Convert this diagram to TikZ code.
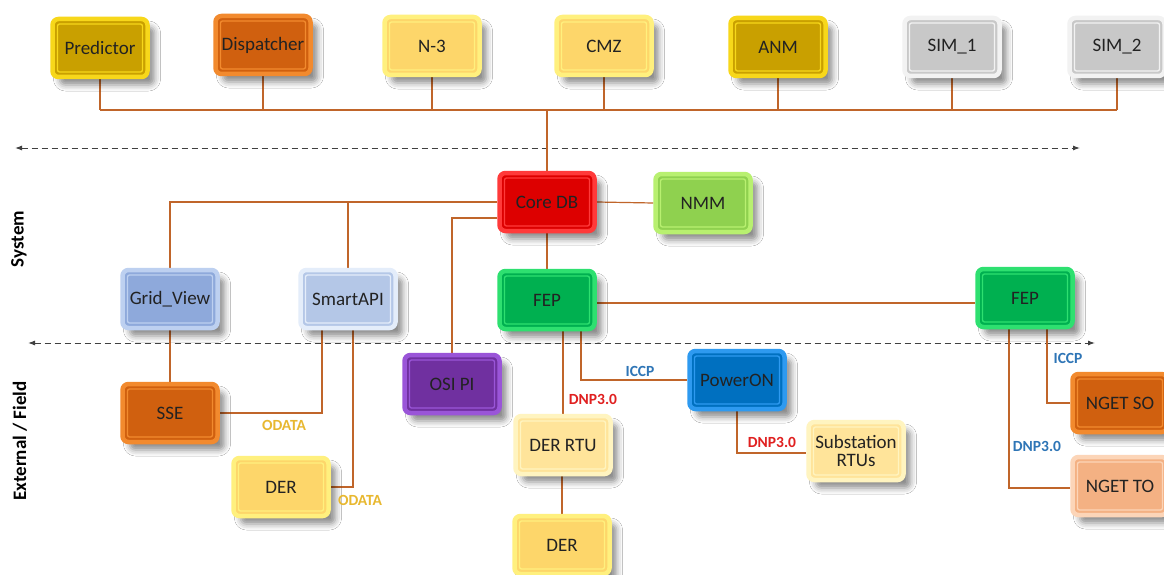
\documentclass[tikz,border=0pt]{standalone}
\usepackage{fontspec}
\setmainfont{Carlito}
\usetikzlibrary{shadows.blur,backgrounds,arrows.meta}

% fills and rims of the boxes
\definecolor{goldD}{HTML}{C9A000}
\definecolor{goldL}{HTML}{F7D71A}
\definecolor{orgD}{HTML}{D0600F}
\definecolor{orgL}{HTML}{F28A2E}
\definecolor{ylwD}{HTML}{FDD66A}
\definecolor{ylwL}{HTML}{FFF07E}
\definecolor{paleD}{HTML}{FFE49A}
\definecolor{paleL}{HTML}{FFF4C0}
\definecolor{simD}{HTML}{C8C8C8}
\definecolor{simL}{HTML}{F2F2F2}
\definecolor{redD}{HTML}{DD0000}
\definecolor{redL}{HTML}{FF3A3A}
\definecolor{limeD}{HTML}{8FD14F}
\definecolor{limeL}{HTML}{B8F070}
\definecolor{gvD}{HTML}{8EA9DB}
\definecolor{gvL}{HTML}{BDD0F0}
\definecolor{saD}{HTML}{B4C7E7}
\definecolor{saL}{HTML}{E4EDFA}
\definecolor{grnD}{HTML}{00B050}
\definecolor{grnL}{HTML}{2EE070}
\definecolor{purD}{HTML}{7030A0}
\definecolor{purL}{HTML}{9A55D8}
\definecolor{bluD}{HTML}{0070C0}
\definecolor{bluL}{HTML}{2E9AF0}
\definecolor{peachD}{HTML}{F4B183}
\definecolor{peachL}{HTML}{FCD5B8}
% wires and labels
\definecolor{wire}{HTML}{C0652A}
\definecolor{odata}{HTML}{E8B830}
\definecolor{dnpred}{HTML}{E02020}
\definecolor{iccp}{HTML}{2E75B6}
\definecolor{boxtext}{HTML}{222222}

\begin{document}
\begin{tikzpicture}[x=1pt,y=-1pt,
  font=\fontsize{19}{21}\selectfont,
  box/.style 2 args={
    rectangle, rounded corners=6pt,
    minimum width=95pt, minimum height=58pt,
    fill=#1, draw=#2, line width=4.5pt,
    text=boxtext, align=center,
    blur shadow={shadow xshift=7pt, shadow yshift=-8pt,
                 shadow blur radius=6pt, shadow opacity=45},
    path picture={
      \draw[#2, line width=1.3pt, rounded corners=2pt]
        ([shift={(5pt,-5pt)}]path picture bounding box.north west)
        rectangle
        ([shift={(-5pt,5pt)}]path picture bounding box.south east);}
  },
  link/.style={draw=wire, line width=1.2pt},
  divider/.style={draw=black!75, line width=1pt, dash pattern=on 6pt off 4pt,
                  {Latex[length=7pt,width=5pt]}-{Latex[length=7pt,width=5pt]}},
  tag/.style={font=\fontsize{15.5}{17}\selectfont\bfseries},
  side/.style={font=\fontsize{19}{21}\selectfont\bfseries, rotate=90}
]
\useasboundingbox (0,0) rectangle (1164,575);

% application layer
\node[box={goldD}{goldL}] (pred) at (100,48) {Predictor};
\node[box={orgD}{orgL}]   (disp) at (263,45) {Dispatcher};
\node[box={ylwD}{ylwL}]   (n3)   at (432,46) {N-3};
\node[box={ylwD}{ylwL}]   (cmz)  at (604,46) {CMZ};
\node[box={goldD}{goldL}] (anm)  at (778,47) {ANM};
\node[box={simD}{simL}] (sim1) at (952,47) {SIM\_1};
\node[box={simD}{simL}] (sim2) at (1117,47) {SIM\_2};

% system layer
\node[box={redD}{redL}]   (core)  at (547,202) {Core DB};
\node[box={limeD}{limeL}] (nmm)   at (703,203) {NMM};
\node[box={gvD}{gvL}]     (grid)  at (170,299) {Grid\_View};
\node[box={saD}{saL}]     (smart) at (348,299) {SmartAPI};
\node[box={grnD}{grnL}]   (fepA)  at (547,300) {FEP};
\node[box={grnD}{grnL}]   (fepB)  at (1025,298) {FEP};

% external / field layer
\node[box={purD}{purL}]   (osi)    at (452,384) {OSI PI};
\node[box={orgD}{orgL}]   (sse)    at (170,413) {SSE};
\node[box={ylwD}{ylwL}]   (derL)   at (281,487) {DER};
\node[box={paleD}{paleL}] (derrtu) at (563,445) {DER RTU};
\node[box={ylwD}{ylwL}]   (derB)   at (562,545) {DER};
\node[box={bluD}{bluL}]   (power)  at (737,380) {PowerON};
\node[box={paleD}{paleL}] (subst)  at (856,451) {Substation\\[-3pt]RTUs};
\node[box={orgD}{orgL}]   (ngso)   at (1120,403) {NGET SO};
\node[box={peachD}{peachL}] (ngto) at (1120,486) {NGET TO};

% bus and layer dividers
\coordinate (bus) at (0,110);
\coordinate (divAl) at (15,148);
\coordinate (divAr) at (1080,148);
\coordinate (divBl) at (28,343);
\coordinate (divBr) at (1095,343);

\begin{scope}[on background layer]
  \fill[white] (0,0) rectangle (1164,575);
  \draw[divider] (divAl) -- (divAr);
  \draw[divider] (divBl) -- (divBr);

  \foreach \n in {pred,disp,n3,cmz,anm,sim1,sim2}
    \draw[link] (\n.south) -- (\n.south |- bus);
  \draw[link] (pred.south |- bus) -- (sim2.south |- bus);
  \draw[link] (core.north) -- (core.north |- bus);

  \draw[link] (grid.north) |- (core.west);
  \draw[link] (smart.north) -- (smart.north |- core.west);
  \draw[link] ([yshift=-16pt]core.west) -| (osi.north);
  \draw[link] (core.east) -- (nmm.west);
  \draw[link] (core.south) -- (fepA.north);
  \draw[link] ([yshift=-3pt]fepA.east) -- ([yshift=-3pt]fepA.east -| fepB.west);

  \draw[link] (grid.south) -- (sse.north);
  \draw[link] ([xshift=-26pt]smart.south) |- (sse.east);
  \draw[link] ([xshift=5pt]smart.south) |- (derL.east);

  \draw[link] (derrtu.north |- fepA.south) -- (derrtu.north);
  \draw[link] ([xshift=34pt]fepA.south) |- (power.west);
  \draw[link] (power.south) |- ([yshift=-2pt]subst.west);
  \draw[link] (derrtu.south -| derB.north) -- (derB.north);

  \draw[link] ([xshift=22pt]fepB.south) |- (ngso.west);
  \draw[link] ([xshift=-16pt]fepB.south) |- ([yshift=-2pt]ngto.west);
\end{scope}

% protocol labels
\node[tag, text=odata]  (lo1) at (284,425) {ODATA};
\node[tag, text=odata]  (lo2) at (360,500) {ODATA};
\node[tag, text=dnpred] (ld1) at (593,399) {DNP3.0};
\node[tag, text=iccp]   (li1) at (640,371) {ICCP};
\node[tag, text=dnpred] (ld2) at (772,442) {DNP3.0};
\node[tag, text=iccp]   (li2) at (1068,358) {ICCP};
\node[tag, text=iccp]   (ld3) at (1037,446) {DNP3.0};

% layer names
\node[side] (lsys) at (19,239) {System};
\node[side] (lext) at (20,441) {External / Field};
\end{tikzpicture}
\end{document}
